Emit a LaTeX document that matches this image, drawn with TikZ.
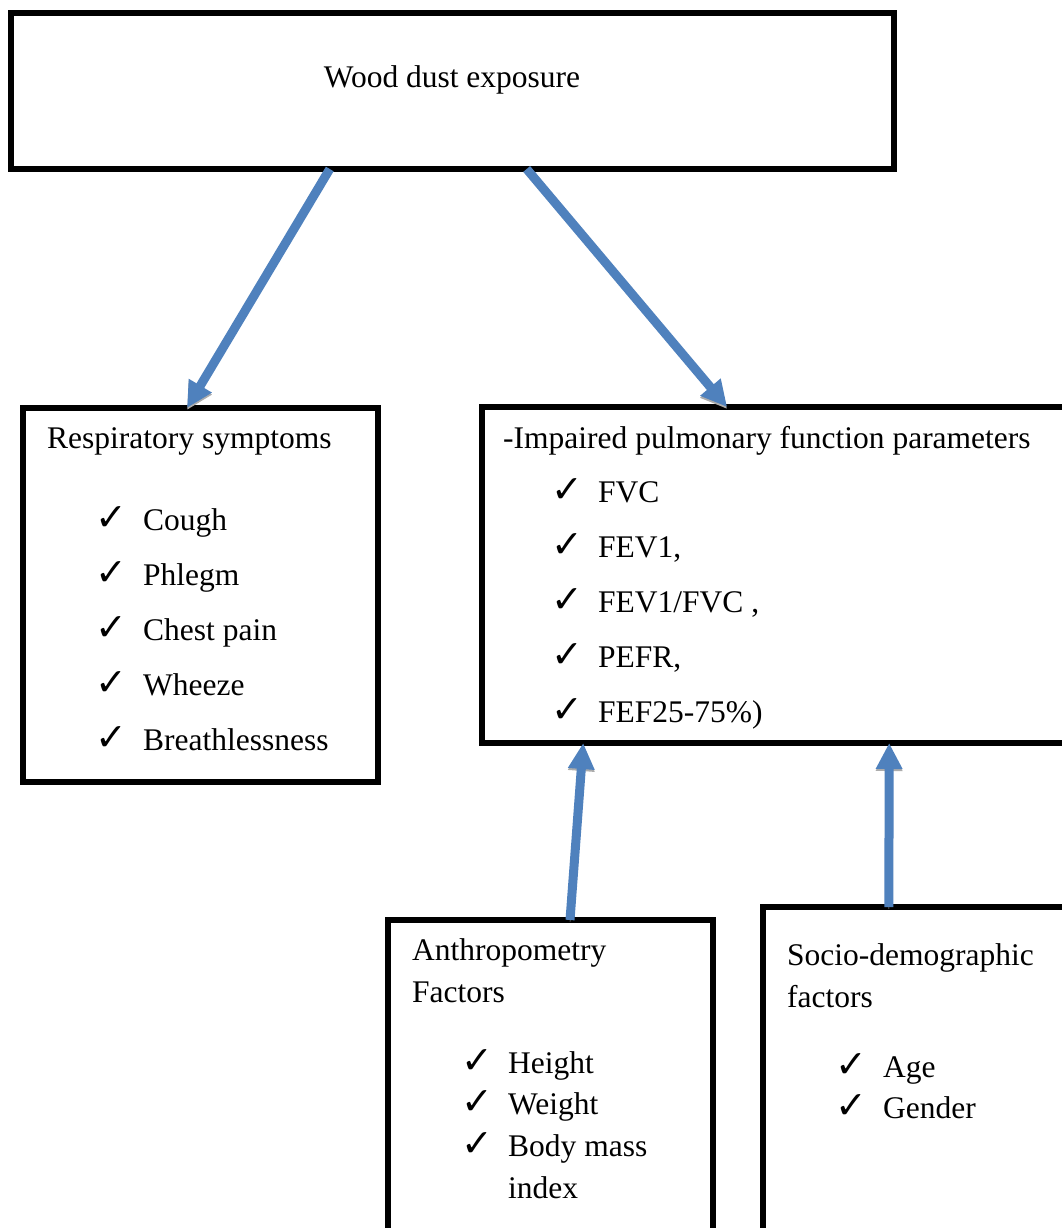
\documentclass[tikz,border=0pt]{standalone}
\usepackage{fontspec}
\setmainfont{Liberation Serif}
\newfontfamily\chkfont{DejaVu Sans}
\usetikzlibrary{arrows.meta,calc}
\definecolor{arrowblue}{HTML}{4F81BD}

\begin{document}
\begin{tikzpicture}[x=1pt,y=-1pt,
    box/.style={draw,line width=6pt,rectangle,anchor=north west,inner sep=0pt,outer sep=0pt},
    txt/.style={anchor=base west,inner sep=0pt,font=\fontsize{31.5}{36}\selectfont},
    chk/.style={anchor=base west,inner sep=0pt,font=\chkfont\fontsize{38}{40}\selectfont},
    blu/.style={draw=arrowblue,line width=9pt,-{Triangle[width=25pt,length=26pt]},
      preaction={draw=gray!65,transform canvas={shift={(0,2)}}}}]
  \useasboundingbox[fill=white] (0,0) rectangle (1062,1228);

  \node[box,minimum width=883pt,minimum height=156pt] (expo) at (11,13) {};
  \node[txt,anchor=base] (expot) at (452,88) {Wood dust exposure};

  \node[box,minimum width=355pt,minimum height=374pt] (resp) at (23,408) {};
  \node[txt] (respt) at (47,448) {Respiratory symptoms};
  \foreach \s [count=\i] in {Cough,Phlegm,Chest pain,Wheeze,Breathlessness} {
    \node[chk] (rc\i) at (95,475+55*\i) {✓};
    \node[txt] (r\i) at (143,475+55*\i) {\s};
  }

  \node[box,minimum width=585pt,minimum height=336pt] (pulm) at (482,407) {};
  \node[txt] (pulmt) at (503,448) {-Impaired pulmonary function parameters};
  \foreach \s [count=\i] in {FVC,{FEV1,},{FEV1/FVC ,},{PEFR,},FEF25-75\%)} {
    \node[chk] (pc\i) at (551,447+55*\i) {✓};
    \node[txt] (p\i) at (598,447+55*\i) {\s};
  }

  \node[box,minimum width=325pt,minimum height=340pt] (anth) at (388,920) {};
  \node[txt] (antht) at (412,960) {Anthropometry};
  \node[txt] (anthf) at (412,1002) {Factors};
  \foreach \s/\y [count=\i] in {Height/1073,Weight/1114,Body mass/1156} {
    \node[chk] (ac\i) at (461,\y) {✓};
    \node[txt] (a\i) at (508,\y) {\s};
  }
  \node[txt] (a4) at (508,1198) {index};

  \node[box,minimum width=310pt,minimum height=350pt] (soc) at (763,907) {};
  \node[txt] (soct) at (787,965) {Socio-demographic};
  \node[txt] (socf) at (787,1007) {factors};
  \foreach \s/\y [count=\i] in {Age/1077,Gender/1118} {
    \node[chk] (sc\i) at (835,\y) {✓};
    \node[txt] (s\i) at (883,\y) {\s};
  }

  \draw[blu] ($(expo.south west)!0.361!(expo.south east)$) -- ($(resp.north west)!0.462!(resp.north east)$);
  \draw[blu] ($(expo.south west)!0.584!(expo.south east)$) -- ($(pulm.north west)!0.419!(pulm.north east)$);
  \draw[blu] ($(anth.north west)!0.56!(anth.north east)$) -- ($(pulm.south west)!0.173!(pulm.south east)$);
  \draw[blu] ($(soc.north west)!0.406!(soc.north east)$) -- ($(pulm.south west)!0.696!(pulm.south east)$);
\end{tikzpicture}
\end{document}
